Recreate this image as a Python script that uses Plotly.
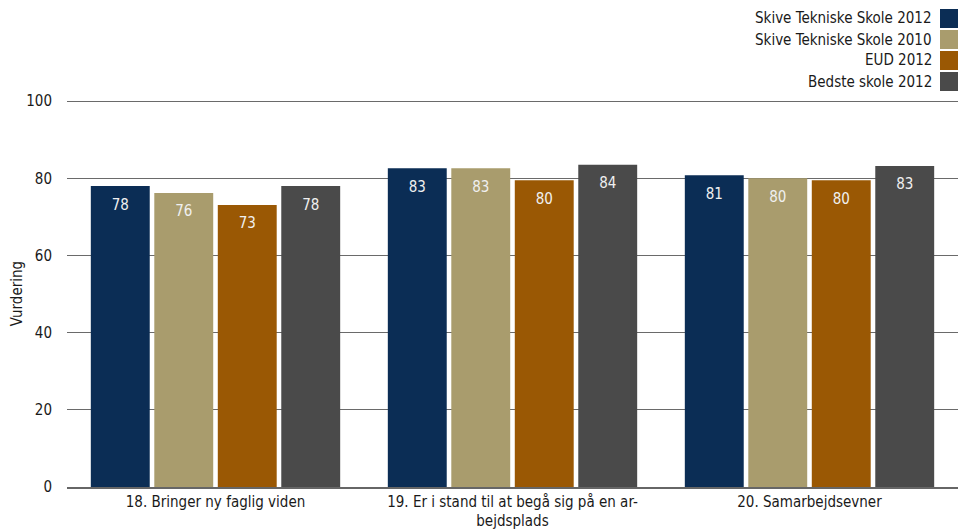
import plotly.graph_objects as go

categories = ["18. Bringer ny faglig viden",
              "19. Er i stand til at begå sig på en ar-<br>bejdsplads",
              "20. Samarbejdsevner"]
series_names = ["Skive Tekniske Skole 2012", "Skive Tekniske Skole 2010",
                "EUD 2012", "Bedste skole 2012"]
values = [
    [78.0, 82.6, 80.8],
    [76.2, 82.6, 80.0],
    [73.1, 79.5, 79.5],
    [78.0, 83.5, 83.2],
]
labels = [
    ["78", "83", "81"],
    ["76", "83", "80"],
    ["73", "80", "80"],
    ["78", "84", "83"],
]
colors = ["#0b2d55", "#a99c6d", "#9a5804", "#4a4a4a"]

FONT = "DejaVu Sans Condensed, DejaVu Sans, sans-serif"
OFF = 8  # page body margin
W, H = 966 - OFF, 529 - OFF
L, R, T, B = 67 - OFF, 8, 100 - OFF, 42
PW, PH = W - L - R, H - T - B
BARGAP = 0.145


def px(xs):
    return (xs - OFF - L) / PW


def py(ys):
    return (H - B - (ys - OFF)) / PH


fig = go.Figure()
for name, vals, col in zip(series_names, values, colors):
    fig.add_trace(go.Bar(
        x=categories, y=vals, name=name,
        marker=dict(color=col, line=dict(width=0)),
        showlegend=False, hoverinfo="skip",
    ))
# value labels, grouped alongside the bars
for name, vals, labs in zip(series_names, values, labels):
    fig.add_trace(go.Scatter(
        x=categories, y=vals, name=name, mode="markers+text",
        marker=dict(size=18, color="rgba(0,0,0,0)"),
        text=labs, textposition="bottom center",
        textfont=dict(color="#f0f0f0", size=15, family=FONT),
        showlegend=False, hoverinfo="skip", cliponaxis=False,
    ))

# manual legend (swatch on the right side of the text)
row_h = 21
for i, (name, col) in enumerate(zip(series_names, colors)):
    y0 = 9 + i * row_h
    fig.add_shape(type="rect", xref="paper", yref="paper",
                  x0=px(940), x1=px(959),
                  y0=py(y0 + 19), y1=py(y0),
                  fillcolor=col, line_width=0)
    fig.add_annotation(xref="paper", yref="paper",
                       x=px(934), y=py(y0 + 9.5),
                       text=name, showarrow=False, xanchor="right", yanchor="middle",
                       font=dict(size=15, color="#1a1a1a", family=FONT))

fig.update_layout(
    width=W, height=H,
    margin=dict(l=L, r=R, t=T, b=B),
    paper_bgcolor="white", plot_bgcolor="white",
    barmode="group", bargap=BARGAP, bargroupgap=0.072,
    scattermode="group", scattergap=BARGAP,
    font=dict(family=FONT, size=15, color="#1a1a1a"),
)
fig.update_xaxes(showline=True, linecolor="#666666", linewidth=1.5, automargin=False,
                 ticks="", tickfont=dict(size=15), showgrid=False)
fig.update_yaxes(range=[0, 100.3], tickvals=[0, 20, 40, 60, 80, 100],
                 showgrid=True, gridcolor="#6a6a6a", automargin=False,
                 gridwidth=1, zeroline=False, ticks="", ticklabelstandoff=14,
                 title=dict(text="Vurdering", font=dict(size=15), standoff=4),
                 tickfont=dict(size=15))

fig.write_html("out.html")
